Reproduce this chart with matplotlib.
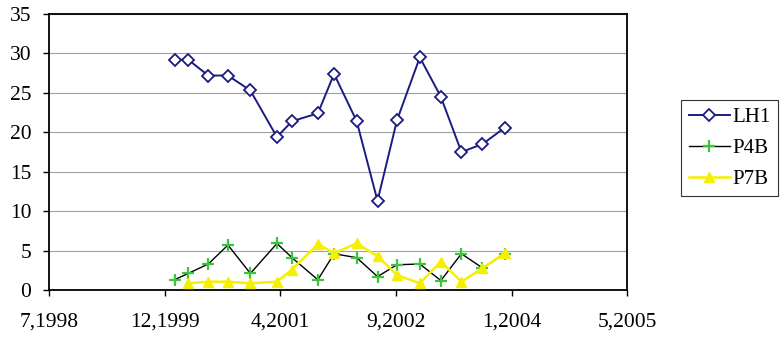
import matplotlib
matplotlib.use("Agg")
import matplotlib.pyplot as plt
import pandas as pd

plt.rcParams['font.family'] = ['Liberation Serif', 'DejaVu Serif']

# sampling dates
dates = ["1999-12-25", "2000-02-22", "2000-05-19", "2000-08-12", "2000-11-17",
         "2001-03-12", "2001-05-16", "2001-09-05", "2001-11-14", "2002-02-20",
         "2002-05-21", "2002-08-13", "2002-11-20", "2003-02-19", "2003-05-19",
         "2003-08-18", "2003-11-23"]

lh1 = [29.2, 29.2, 27.2, 27.2, 25.3, 19.4, 21.4, 22.4, 27.4, 21.4,
       11.3, 21.5, 29.5, 24.5, 17.5, 18.5, 20.6]
p4b = [1.3, 2.1, 3.3, 5.7, 2.1, 5.9, 4.1, 1.3, 4.6, 4.1,
       1.7, 3.2, 3.3, 1.2, 4.6, 2.8, 4.6]
# P7B has no value on the first date
p7b_dates = dates[1:]
p7b = [0.85, 1.05, 1.05, 0.85, 1.05, 2.6, 5.8, 4.7, 5.9, 4.3,
       1.9, 0.85, 3.6, 1.05, 2.75, 4.7]

tick_dates = ["1998-07-01", "1999-11-13", "2001-03-27", "2002-08-09",
              "2003-12-22", "2005-05-05"]
tick_labels = ["7,1998", "12,1999", "4,2001", "9,2002", "1,2004", "5,2005"]

x = pd.to_datetime(dates)
x7 = pd.to_datetime(p7b_dates)
xt = pd.to_datetime(tick_dates)

fig = plt.figure(figsize=(7.82, 3.38), dpi=100)
ax = fig.add_axes([0.063, 0.142, 0.739, 0.8166])

ax.plot(x, lh1, color='#1c1c80', lw=1.4, marker='D', ms=6.5,
        mfc='white', mec='#1c1c80', mew=1.3, label='LH1', zorder=3)
ax.plot(x, p4b, color='black', lw=1.0, marker='+', ms=9,
        mec='#3cc43c', mew=1.6, label='P4B', zorder=3)
ax.plot(x7, p7b, color='#f5f000', lw=1.8, marker='^', ms=7.5,
        mfc='#f5f000', mec='#f5f000', label='P7B', zorder=4)

ax.set_xlim(xt[0], xt[-1])
ax.set_ylim(0, 35)
ax.set_xticks(xt)
ax.set_xticklabels(tick_labels)
ax.set_yticks(range(0, 36, 5))
ax.yaxis.grid(True, color='#a0a0a0', lw=0.8)
ax.set_axisbelow(True)

for s in ax.spines.values():
    s.set_color('black')
    s.set_linewidth(1.3)

ax.tick_params(axis='both', labelsize=15.5, direction='out', length=4,
               width=1, colors='black')
ax.tick_params(axis='x', pad=12)
ax.tick_params(axis='y', pad=9)

leg = fig.legend(loc='upper left', bbox_to_anchor=(0.858, 0.735),
                 fontsize=15, frameon=True, fancybox=False,
                 edgecolor='black', handlelength=2.0, handletextpad=0.1,
                 borderpad=0.35, labelspacing=0.55)
leg.get_frame().set_linewidth(0.8)

fig.savefig('out.png', dpi=100, facecolor='white')
